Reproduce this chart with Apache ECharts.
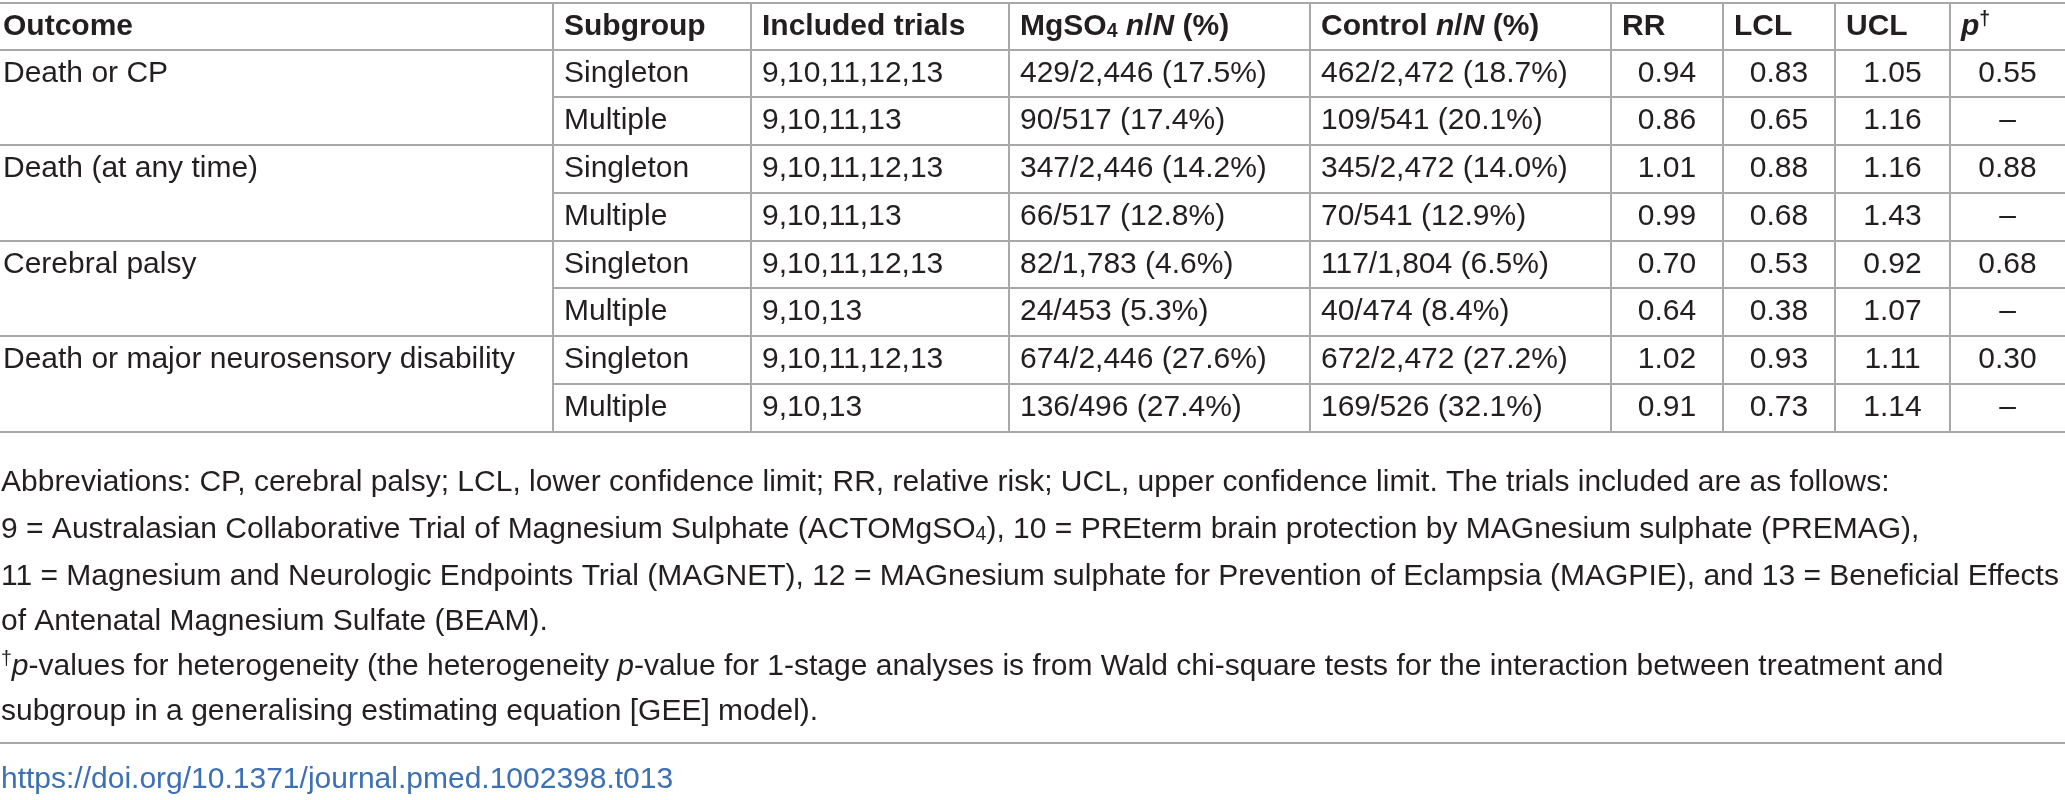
<!DOCTYPE html>
<html><head><meta charset="utf-8">
<script src="https://cdn.jsdelivr.net/npm/echarts@6/dist/echarts.min.js"></script>
<style>html,body{margin:0;padding:0;background:#fff}#c{width:2065px;height:800px}</style>
</head><body><div id="c"></div>
<script>
const outcomes = ["Death or CP", "Death (at any time)", "Cerebral palsy", "Death or major neurosensory disability"];
const subgroups = ["Singleton","Multiple","Singleton","Multiple","Singleton","Multiple","Singleton","Multiple"];
const trials = ["9,10,11,12,13","9,10,11,13","9,10,11,12,13","9,10,11,13","9,10,11,12,13","9,10,13","9,10,11,12,13","9,10,13"];
const mgso4 = ["429/2,446 (17.5%)","90/517 (17.4%)","347/2,446 (14.2%)","66/517 (12.8%)","82/1,783 (4.6%)","24/453 (5.3%)","674/2,446 (27.6%)","136/496 (27.4%)"];
const control = ["462/2,472 (18.7%)","109/541 (20.1%)","345/2,472 (14.0%)","70/541 (12.9%)","117/1,804 (6.5%)","40/474 (8.4%)","672/2,472 (27.2%)","169/526 (32.1%)"];
const rr = ["0.94","0.86","1.01","0.99","0.70","0.64","1.02","0.91"];
const lcl = ["0.83","0.65","0.88","0.68","0.53","0.38","0.93","0.73"];
const ucl = ["1.05","1.16","1.16","1.43","0.92","1.07","1.11","1.14"];
const pvals = ["0.55","–","0.88","–","0.68","–","0.30","–"];
const footnotes = [
 "Abbreviations: CP, cerebral palsy; LCL, lower confidence limit; RR, relative risk; UCL, upper confidence limit. The trials included are as follows:",
 "9 = Australasian Collaborative Trial of Magnesium Sulphate (ACTOMgSO{sub|4}), 10 = PREterm brain protection by MAGnesium sulphate (PREMAG),",
 "11 = Magnesium and Neurologic Endpoints Trial (MAGNET), 12 = MAGnesium sulphate for Prevention of Eclampsia (MAGPIE), and 13 = Beneficial Effects",
 "of Antenatal Magnesium Sulfate (BEAM).",
 "{sup|†}{i|p}-values for heterogeneity (the heterogeneity {i|p}-value for 1-stage analyses is from Wald chi-square tests for the interaction between treatment and",
 "subgroup in a generalising estimating equation [GEE] model)."
];
const doi = "https://doi.org/10.1371/journal.pmed.1002398.t013";

const FAM = "'Liberation Sans', Arial, sans-serif";
const cv = document.createElement('canvas').getContext('2d');
cv.font = "27px " + FAM;
let fs = 27 * 2055 / cv.measureText(footnotes[2]).width;
fs = Math.round(fs*10)/10;

const colX = [0, 553, 751, 1009, 1310, 1611, 1723, 1835, 1950, 2065];
const rowY = [3, 50, 97, 145, 193, 241, 288, 336, 384, 432];
const LC = '#a8a8a8', TC = '#231f20';
const rich = {
  b:{fontFamily:FAM,fontSize:fs,fontWeight:'bold',fill:TC},
  bi:{fontFamily:FAM,fontSize:fs,fontWeight:'bold',fontStyle:'italic',fill:TC},
  bsub:{fontFamily:FAM,fontSize:fs*0.65,fontWeight:'bold',fill:TC,padding:[0,0,-10,0]},
  bsup:{fontFamily:FAM,fontSize:fs*0.65,fontWeight:'bold',fill:TC,padding:[0,0,14,0]},
  sub:{fontFamily:FAM,fontSize:fs*0.65,fill:TC,padding:[0,0,-10,0]},
  sup:{fontFamily:FAM,fontSize:fs*0.65,fill:TC,padding:[0,0,14,0]},
  i:{fontFamily:FAM,fontSize:fs,fontStyle:'italic',fill:TC},
  n:{fontFamily:FAM,fontSize:fs,fill:TC}
};
const els = [];
function line(x1,y1,x2,y2){els.push({type:'line',shape:{x1,y1,x2,y2},style:{stroke:LC,lineWidth:2},silent:true});}
function txt(t,x,y,align,isRich,bold){
  els.push({type:'text',x:x,y:y,style:{text:t,font:(bold?'bold ':'')+fs+'px '+FAM,fill:TC,align:align||'left',verticalAlign:'middle',rich:isRich?rich:undefined}});
}
line(0,rowY[0],2065,rowY[0]);
line(0,rowY[1],2065,rowY[1]);
for(let r=1;r<=8;r++){
  const y=rowY[r+1];
  if(r%2===0) line(0,y,2065,y); else line(colX[1],y,2065,y);
}
for(let c=1;c<colX.length-1;c++) line(colX[c],rowY[0],colX[c],rowY[9]);
const hy=(rowY[0]+rowY[1])/2;
const pad=11;
txt("{b|Outcome}",colX[0]+3,hy,'left',true);
txt("{b|Subgroup}",colX[1]+pad,hy,'left',true);
txt("{b|Included trials}",colX[2]+pad,hy,'left',true);
txt("{b|MgSO}{bsub|4}{b| }{bi|n}{b|/}{bi|N}{b| (%)}",colX[3]+pad,hy,'left',true);
txt("{b|Control }{bi|n}{b|/}{bi|N}{b| (%)}",colX[4]+pad,hy,'left',true);
txt("{b|RR}",colX[5]+pad,hy,'left',true);
txt("{b|LCL}",colX[6]+pad,hy,'left',true);
txt("{b|UCL}",colX[7]+pad,hy,'left',true);
txt("{bi|p}{bsup|†}",colX[8]+pad,hy,'left',true);
const mid=c=>(colX[c]+colX[c+1])/2;
for(let r=0;r<8;r++){
  const y=(rowY[r+1]+rowY[r+2])/2;
  if(r%2===0) txt(outcomes[r/2],colX[0]+3,y);
  txt(subgroups[r],colX[1]+pad,y);
  txt(trials[r],colX[2]+pad,y);
  txt(mgso4[r],colX[3]+pad,y);
  txt(control[r],colX[4]+pad,y);
  txt(rr[r],mid(5),y,'center');
  txt(lcl[r],mid(6),y,'center');
  txt(ucl[r],mid(7),y,'center');
  txt(pvals[r],mid(8),y,'center');
}
const fy=[483,530,577,622,667,712];
footnotes.forEach((t,k)=>txt("{n|"+t.replace(/\{(sub|sup|i)\|([^}]*)\}/g,"}{$1|$2}{n|")+"}",1,fy[k],'left',true));
line(0,743,2065,743);
els.push({type:'text',x:1,y:780,style:{text:doi,font:fs+'px '+FAM,fill:'#3c6fb4',align:'left',verticalAlign:'middle'}});

const chart = echarts.init(document.getElementById('c'));
chart.setOption({animation:false,graphic:{elements:els}});
</script></body></html>
